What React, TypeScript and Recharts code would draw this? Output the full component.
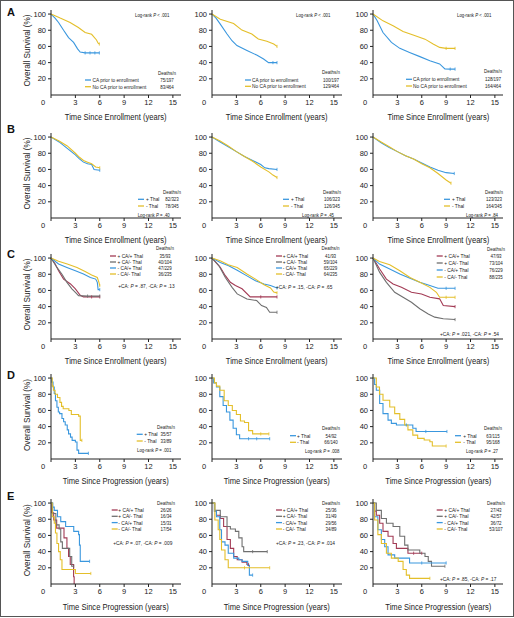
import { LineChart, Line, XAxis, YAxis } from 'recharts';

type Raw = number[];
type Pt = { t: number; s: number; c: number };
const pts = (rows: Raw[]): Pt[] => rows.map(([t, s, c]) => ({ t, s, c: c ? 1 : 0 }));

// [years, survival %, censored?]
// Row A - CA prior to enrollment vs none (three follow-up cuts)
const a1Ca = [[0,100],[0.5,95],[0.93,89.6],[1.55,80],[2.16,71],[2.78,65],[3.27,57],[3.59,53],[4.2,52,1],[4.8,52,1],[5.4,52,1],[5.95,52,1]];
const a1NoCa = [[0,100],[0.5,98],[1.13,95],[2.35,89.6],[3.37,83.4],[4.2,77.3],[5,75],[5.6,68],[5.8,64],[5.95,63,1]];
const a2Ca = [[0,100],[0.5,95],[1.02,87.6],[1.85,75.3],[2.46,67],[3.07,61],[4.3,55],[5.5,49.3],[6.35,44.4],[6.96,40],[7.5,40,1],[8,40,1]];
const a2NoCa = [[0,100],[1.02,93.7],[2.66,88.3],[3.68,80.2],[4.9,75.3],[5.7,69.2],[6.75,66.3],[7.6,63],[8,60,1]];
const a3Ca = [[0,100],[0.5,92],[1.23,77.2],[2.27,65],[3.3,57.6],[4.5,52.6],[5.77,47.4],[7,42.4],[8.2,38.4],[8.85,32.2],[9.5,32,1],[10.1,32,1]];
const a3NoCa = [[0,100],[1.23,91.6],[2.47,85.5],[3.7,78.5],[4.94,74],[6.4,69],[7.4,63],[8.2,58.8],[9,57.6,1],[10.1,57.6,1]];

// Row B - +Thal vs -Thal
const b1Thal = [[0,100],[1,94],[2,86],[3,78],[3.5,73],[4,69],[4.5,67],[5,66],[5.3,60],[6,59,1]];
const b1NoThal = [[0,100],[1,95],[2,89],[3,80],[3.5,75],[4,71],[4.5,69],[5,67],[5.5,63],[6,62,1]];
const b2Thal = [[0,100],[1,94],[2,88],[3,82],[4,76],[5,71],[6,66],[6.5,62],[7,61],[8,60,1]];
const b2NoThal = [[0,100],[1,95],[2,89],[3,82],[4,76],[5,70],[6,63],[7,57],[7.5,53],[8,50,1]];
const b3Thal = [[0,100],[1,93],[2,87],[3,82],[4,77],[5,73],[6,68],[7,63],[8,59],[9,56],[10,55,1]];
const b3NoThal = [[0,100],[1,94],[2,88],[3,82],[4,77],[5,73],[6,67],[7,62],[8,55],[9,47],[9.6,43,1]];

// Row C - CA x Thal groups
const c1CaThal = [[0,100],[0.5,93],[0.93,84.4],[1.55,74],[2.4,68],[3,62],[3.6,54],[4,52],[5,52,1],[6,52,1]];
const c1CaNoThal = [[0,100],[0.73,88.4],[1.35,80],[1.96,70],[2.57,62],[3,57.7],[3.39,53.6],[4.5,53,1],[6,53,1]];
const c1NoCaThal = [[0,100],[0.93,92.6],[1.96,88.4],[3,84.4],[4,80.3],[4.84,76],[5.5,74],[5.7,70],[5.8,61],[6,61,1]];
const c1NoCaNoThal = [[0,100],[0.93,96],[2,92.6],[3.2,88.4],[4.2,83.5],[5,79],[5.7,76],[5.9,70],[6,66,1]];
const c2CaThal = [[0,100],[1.02,88.4],[1.64,78.2],[2.26,70],[2.88,66],[3.7,62],[4.7,52],[6,52,1],[8,52,1]];
const c2CaNoThal = [[0,100],[0.86,90.5],[1.64,76],[2.47,63.8],[3.1,55.7],[4.3,49.5],[5.5,47.5],[6.1,41.3],[6.7,39],[7.1,33],[8,33,1]];
const c2NoCaThal = [[0,100],[1.02,94.6],[2.05,90.5],[3.1,85],[4.3,78],[5.35,72],[6.4,68],[7.2,66],[8,63,1]];
const c2NoCaNoThal = [[0,100],[1,96.7],[2,91.8],[3.1,88.4],[4.3,80.3],[5.35,74],[6.4,67],[7.2,63],[7.6,58],[8,57,1]];
const c3CaThal = [[0,100],[0.82,86.5],[1.65,74],[2.47,68],[3.5,63.8],[4.73,57.7],[5.97,55.7],[7,51.5],[8.2,49.6],[8.65,41.3],[10.1,40,1]];
const c3CaNoThal = [[0,100],[0.82,82.3],[1.65,70],[2.67,57.7],[3.7,51.5],[4.73,45.4],[5.76,37.3],[6.8,31],[7.6,27],[8.65,25],[10.1,24,1]];
const c3NoCaThal = [[0,100],[0.8,92.6],[2.06,86.5],[3.3,80.3],[4.55,75],[5.76,70],[7,66],[8,62.6],[9,62.6,1],[10.1,62.6,1]];
const c3NoCaNoThal = [[0,100],[0.8,95.8],[2.06,91.8],[3.3,84.4],[4.55,76],[5.76,70],[7,63.8],[7.8,57.7],[8.2,51.5],[9,51.5,1],[10.1,51.5,1]];

// Row D - since progression, +Thal vs -Thal
const d1Thal = [[0,100],[0.1,95],[0.25,89],[0.4,81],[0.55,72],[0.73,64],[0.9,58],[1.06,56],[1.35,50],[1.55,46],[1.75,42],[2,36],[2.16,31],[2.4,27],[2.6,23],[3,21],[3.2,11],[3.4,7],[4.6,7,1]];
const d1NoThal = [[0,100],[0.15,90],[0.3,85],[0.5,80],[0.8,76],[1.1,70],[1.3,65],[1.5,62],[2.2,60],[2.5,55],[3.4,53],[3.6,23],[3.8,23,1]];
const d2Thal = [[0,100],[0.2,94],[0.55,89],[0.96,77],[1.37,66],[1.78,58],[2.2,48],[2.6,38],[3,30],[3.4,25],[4.5,25,1],[5.5,25,1],[7.1,25,1]];
const d2NoThal = [[0,100],[0.3,94],[0.55,90],[0.96,85],[1.5,72],[2,66],[2.5,60],[3,55],[3.5,47],[4,45],[4.5,35],[5,31],[6,31,1],[7,31,1]];
const d3Thal = [[0,100],[0.2,92],[0.41,85],[0.82,68.5],[1.23,56],[1.85,48],[2.26,44],[2.88,42],[4.1,42,1],[4.9,38],[5.3,34],[6.5,34,1],[9.1,34,1]];
const d3NoThal = [[0,100],[0.41,89],[0.8,80],[1.23,72.6],[2.06,64.3],[2.67,56],[3.3,49],[3.9,42],[4.3,36],[4.9,29.5],[5.5,25.5],[6.3,23.4],[7,21.3],[7.3,16],[9,16,1]];

// Row E - since progression, CA x Thal groups
const e1CaThal = [[0,100],[0.1,88],[0.33,79],[0.7,69],[1.6,57],[1.96,44],[2.16,34],[2.37,24],[2.78,9],[2.85,0]];
const e1CaNoThal = [[0,100],[0.2,87],[0.6,73],[1,68],[1.2,52],[1.4,44],[2.3,34],[2.55,22],[2.8,22,1]];
const e1NoCaThal = [[0,100],[0.2,95],[0.4,91],[0.8,83],[1.2,77],[1.8,71],[2.8,65],[3.4,61],[3.5,48],[3.6,28],[4.75,28,1]];
const e1NoCaNoThal = [[0,100],[0.15,83],[0.4,75],[0.55,63],[0.73,50],[0.93,40],[1.14,30],[1.35,18],[3,13],[4.9,13,1]];
const e2CaThal = [[0,100],[0.3,90],[0.55,85],[1.02,81],[1.43,71],[1.85,55],[2.26,44],[2.67,34],[3.1,30],[3.7,27],[4.3,24],[4.5,24,1]];
const e2CaNoThal = [[0,100],[0.35,91],[1.02,83],[1.85,71],[2.26,68],[2.88,65],[3.3,57],[3.7,46],[3.9,40],[5,40,1],[6.8,40,1]];
const e2NoCaThal = [[0,100],[0.3,90],[0.55,83],[0.96,67],[1.17,52],[1.6,48],[2,38],[2.67,32],[3.3,30],[3.7,28],[4.4,23],[4.6,11],[5,11,1]];
const e2NoCaNoThal = [[0,100],[0.35,79],[0.76,67],[0.96,55],[1.17,42],[1.6,30],[2,20],[4,20,1],[7.1,20,1]];
const e3CaThal = [[0,100],[0.2,90],[0.41,85],[0.82,75],[1.23,65],[1.85,59],[2.47,50],[2.88,44],[4.3,38],[5,38,1],[6,38,1]];
const e3CaNoThal = [[0,100],[0.41,91],[1.03,81],[1.65,75],[2.47,71],[3.3,59],[3.9,48],[4.3,42],[5.76,38],[6.4,34],[6.8,28],[7.2,22],[8.85,22,1]];
const e3NoCaThal = [[0,100],[0.2,83],[0.6,67],[1.03,55],[1.44,46],[1.85,36],[2.67,32],[4.5,26],[6,26,1],[9,26,1]];
const e3NoCaNoThal = [[0,100],[0.2,79],[0.6,61],[1.03,50],[1.65,38],[2.26,32],[3.1,28],[3.7,18],[4.1,11],[4.5,7],[7,7,1]];

// legend text
const caNames = ['CA prior to enrollment', 'No CA prior to enrollment'];
const thalNames = ['+ Thal', '- Thal'];
const groupNames = ['+ CA/+ Thal', '+ CA/- Thal', '- CA/+ Thal', '- CA/- Thal'];
const deathsA = [['75/197', '83/464'], ['100/197', '129/464'], ['128/197', '164/464']];
const deathsB = [['82/323', '78/345'], ['106/323', '126/345'], ['123/323', '164/345']];
const deathsC = [['35/93', '40/104', '47/229', '36/235'], ['41/93', '59/104', '65/229', '64/235'], ['47/93', '73/104', '76/229', '88/235']];
const deathsD = [['35/57', '33/89'], ['54/92', '66/140'], ['63/115', '95/168']];
const deathsE = [['26/26', '16/34', '15/31', '17/54'], ['25/36', '31/49', '29/56', '34/89'], ['27/43', '42/57', '36/72', '53/107']];
const statsA = ['Log-rank *P* < .001', 'Log-rank *P* < .001', 'Log-rank *P* < .001'];
const statsB = ['Log-rank *P* = .40', 'Log-rank *P* = .45', 'Log-rank *P* = .84'];
const statsC = ['+CA: *P* = .87, -CA: *P* = .13', '+CA: *P* = .15, -CA: *P* = .65', '+CA: *P* = .021, -CA: *P* = .54'];
const statsD = ['Log-rank *P* = .001', 'Log-rank *P* = .008', 'Log-rank *P* = .27'];
const statsE = ['+CA: *P* = .07, -CA: *P* = .009', '+CA: *P* = .23, -CA: *P* = .014', '+CA: *P* = .85, -CA: *P* = .17'];
const rowLetters = ['A', 'B', 'C', 'D', 'E'];
const X_TICKS = [0, 3, 6, 9, 12, 15];
const Y_TICKS = [20, 40, 60, 80, 100];

const BLUE = '#3a97de';
const GOLD = '#e4bf2a';
const MAROON = '#a33b55';
const GRAY = '#6f6f6f';
const INK = '#222';
const SANS = "'Liberation Sans', Arial, sans-serif";

const COL_X = [50.7, 211.7, 373.3];
const ROW_Y = [94.5, 217.5, 338.6, 459, 584.3];
const PW = 130;
const PH = 85;
const ML = 40;
const MT = 4;
const MR = 4;
const XH = 30;

type Series = { data: Raw[]; color: string };
type PanelDef = { series: Series[]; names: string[]; deaths: string[]; stat: string; stepped: boolean; title: string };

const two = (a: Raw[], b: Raw[]) => [{ data: a, color: BLUE }, { data: b, color: GOLD }];
const four = (a: Raw[], b: Raw[], c: Raw[], d: Raw[]) => [
  { data: a, color: MAROON }, { data: b, color: GRAY }, { data: c, color: BLUE }, { data: d, color: GOLD },
];
const ENR = 'Time Since Enrollment (years)';
const PROG = 'Time Since Progression (years)';

const panels: PanelDef[] = [
  { series: two(a1Ca, a1NoCa), names: caNames, deaths: deathsA[0], stat: statsA[0], stepped: false, title: ENR },
  { series: two(a2Ca, a2NoCa), names: caNames, deaths: deathsA[1], stat: statsA[1], stepped: false, title: ENR },
  { series: two(a3Ca, a3NoCa), names: caNames, deaths: deathsA[2], stat: statsA[2], stepped: false, title: ENR },
  { series: two(b1Thal, b1NoThal), names: thalNames, deaths: deathsB[0], stat: statsB[0], stepped: false, title: ENR },
  { series: two(b2Thal, b2NoThal), names: thalNames, deaths: deathsB[1], stat: statsB[1], stepped: false, title: ENR },
  { series: two(b3Thal, b3NoThal), names: thalNames, deaths: deathsB[2], stat: statsB[2], stepped: false, title: ENR },
  { series: four(c1CaThal, c1CaNoThal, c1NoCaThal, c1NoCaNoThal), names: groupNames, deaths: deathsC[0], stat: statsC[0], stepped: false, title: ENR },
  { series: four(c2CaThal, c2CaNoThal, c2NoCaThal, c2NoCaNoThal), names: groupNames, deaths: deathsC[1], stat: statsC[1], stepped: false, title: ENR },
  { series: four(c3CaThal, c3CaNoThal, c3NoCaThal, c3NoCaNoThal), names: groupNames, deaths: deathsC[2], stat: statsC[2], stepped: false, title: ENR },
  { series: two(d1Thal, d1NoThal), names: thalNames, deaths: deathsD[0], stat: statsD[0], stepped: true, title: PROG },
  { series: two(d2Thal, d2NoThal), names: thalNames, deaths: deathsD[1], stat: statsD[1], stepped: true, title: PROG },
  { series: two(d3Thal, d3NoThal), names: thalNames, deaths: deathsD[2], stat: statsD[2], stepped: true, title: PROG },
  { series: four(e1CaThal, e1CaNoThal, e1NoCaThal, e1NoCaNoThal), names: groupNames, deaths: deathsE[0], stat: statsE[0], stepped: true, title: PROG },
  { series: four(e2CaThal, e2CaNoThal, e2NoCaThal, e2NoCaNoThal), names: groupNames, deaths: deathsE[1], stat: statsE[1], stepped: true, title: PROG },
  { series: four(e3CaThal, e3CaNoThal, e3NoCaThal, e3NoCaNoThal), names: groupNames, deaths: deathsE[2], stat: statsE[2], stepped: true, title: PROG },
];

// legend placement per panel (absolute px)
const C_ROWS = [256, 262, 268, 274];
const E_ROWS = [510, 516.3, 522.6, 529];
const LEG = [
  { hx: 167, hy: 72.7, ry: [80, 86.7], sx: 85, tx: 92.5, stx: 135, sty: 15 },
  { hx: 331, hy: 71.7, ry: [80, 86.3], sx: 245, tx: 252, stx: 296, sty: 15 },
  { hx: 493, hy: 70.7, ry: [79.3, 86], sx: 406, tx: 413, stx: 457, sty: 15 },
  { hx: 172, hy: 191.7, ry: [199.3, 206], sx: 138, tx: 146, stx: 137.7, sty: 215 },
  { hx: 332, hy: 191.7, ry: [199.3, 206], sx: 283, tx: 291, stx: 302, sty: 215 },
  { hx: 494, hy: 191.7, ry: [199.3, 206], sx: 444, tx: 452, stx: 466, sty: 215 },
  { hx: 165, hy: 248.5, ry: C_ROWS, sx: 110, tx: 117.5, stx: 118.3, sty: 286 },
  { hx: 330.5, hy: 248.5, ry: C_ROWS, sx: 276, tx: 282.7, stx: 276, sty: 286.7 },
  { hx: 496, hy: 249.5, ry: [256, 263, 270, 277], sx: 436.7, tx: 444.3, stx: 440, sty: 334 },
  { hx: 166, hy: 427.3, ry: [434.3, 441], sx: 136.7, tx: 144.3, stx: 137, sty: 450 },
  { hx: 331, hy: 428.3, ry: [435.7, 442.3], sx: 290, tx: 297, stx: 305, sty: 450.7 },
  { hx: 493, hy: 428.3, ry: [435.7, 442.3], sx: 455, tx: 463.3, stx: 466, sty: 450.7 },
  { hx: 166, hy: 503.5, ry: E_ROWS, sx: 111.7, tx: 118.3, stx: 113.3, sty: 543.3 },
  { hx: 331, hy: 503.5, ry: E_ROWS, sx: 276, tx: 282.7, stx: 276, sty: 542.7 },
  { hx: 496, hy: 503.5, ry: E_ROWS, sx: 436.7, tx: 444.3, stx: 440, sty: 579.3 },
];
const LETTER_Y = [12, 129, 254, 375.5, 496];

// condensed text: regular face squeezed horizontally
function NText({ x, y, size, anchor = 'start', squeeze = 0.8, rotate = 0, children }: any) {
  return (
    <g transform={`translate(${x},${y}) rotate(${rotate}) scale(${squeeze},1)`}>
      <text x={0} y={0} dy="0.35em" fontSize={size} textAnchor={anchor} fill={INK} fontFamily={SANS}>
        {children}
      </text>
    </g>
  );
}

const XTick = (props: any) => {
  const { x, y, payload } = props;
  return (
    <text x={payload.value === 0 ? x - 8 : x} y={y + 5} textAnchor="middle" fontSize={7.5} fill={INK} fontFamily={SANS}>
      {payload.value}
    </text>
  );
};

const censor = (color: string) => (p: any) => {
  const { cx, cy, payload, index } = p;
  if (!payload || !payload.c || cx == null) return <g key={`n${index}`} />;
  return <line key={`c${index}`} x1={cx} x2={cx} y1={cy - 1.6} y2={cy + 1.6} stroke={color} strokeWidth={0.8} />;
};

function Panel({ def, col, row }: { def: PanelDef; col: number; row: number }) {
  const ox = COL_X[col];
  const oy = ROW_Y[row];
  return (
    <div style={{ position: 'absolute', left: ox - ML, top: oy - PH - MT }}>
      <LineChart width={ML + PW + MR} height={MT + PH + XH} margin={{ top: MT, right: MR, bottom: 0, left: 0 }}>
        <XAxis
          type="number"
          dataKey="t"
          domain={[0, 16]}
          ticks={X_TICKS}
          interval={0}
          tickSize={3}
          height={XH}
          stroke={INK}
          tick={<XTick />}
        />
        <YAxis
          type="number"
          domain={[0, 105]}
          ticks={Y_TICKS}
          interval={0}
          width={ML}
          tickSize={3}
          stroke={INK}
          tick={{ fontSize: 7.5, fill: INK, fontFamily: SANS }}
        />
        {def.series.map((s, i) => (
          <Line
            key={i}
            data={pts(s.data)}
            dataKey="s"
            type={def.stepped ? 'stepAfter' : 'linear'}
            stroke={s.color}
            strokeWidth={1.1}
            dot={censor(s.color)}
            activeDot={false}
            isAnimationActive={false}
          />
        ))}
      </LineChart>
    </div>
  );
}

function StatText({ x, y, text, size }: { x: number; y: number; text: string; size: number }) {
  return (
    <NText x={x} y={y} size={size}>
      {text.split('*').map((part, i) => (
        <tspan key={i} fontStyle={i % 2 ? 'italic' : 'normal'}>{part}</tspan>
      ))}
    </NText>
  );
}

function Overlay() {
  return (
    <svg width={514} height={618} style={{ position: 'absolute', left: 0, top: 0, pointerEvents: 'none' }}>
      <rect x={0.5} y={0.5} width={513} height={616} fill="none" stroke="#555" strokeWidth={1} />
      {rowLetters.map((l, i) => (
        <text key={l} x={7} y={LETTER_Y[i]} dy="0.35em" fontSize={11} fontWeight="bold" fill="#111" fontFamily={SANS}>{l}</text>
      ))}
      {ROW_Y.map((oy, r) => (
        <g key={`ax${r}`}>
          <NText x={27} y={oy - 44} size={9.5} anchor="middle" rotate={-90} squeeze={0.86}>
            Overall Survival (%)
          </NText>
          {COL_X.map((ox, c) => (
            <NText key={c} x={ox + PW / 2} y={oy + 22} size={9.5} anchor="middle" squeeze={0.8}>
              {panels[r * 3 + c].title}
            </NText>
          ))}
        </g>
      ))}
      {panels.map((p, k) => {
        const L = LEG[k];
        const four4 = p.names.length === 4;
        return (
          <g key={k}>
            <NText x={L.hx} y={L.hy} size={5.6} anchor="middle">Deaths/n</NText>
            {p.names.map((n, i) => (
              <g key={n}>
                <line x1={L.sx} x2={L.sx + 6} y1={L.ry[i]} y2={L.ry[i]} stroke={p.series[i].color} strokeWidth={1.3} />
                <NText x={L.tx} y={L.ry[i]} size={6}>{n}</NText>
                <NText x={L.hx} y={L.ry[i]} size={5.6} anchor="middle">{p.deaths[i]}</NText>
              </g>
            ))}
            <StatText x={L.stx} y={L.sty} text={p.stat} size={four4 ? 6 : 5.4} />
          </g>
        );
      })}
    </svg>
  );
}

export default function App() {
  return (
    <div style={{ position: 'absolute', left: 0, top: 0, width: 514, height: 618, background: '#fff', overflow: 'hidden' }}>
      {panels.map((p, k) => (
        <Panel key={k} def={p} col={k % 3} row={Math.floor(k / 3)} />
      ))}
      <Overlay />
    </div>
  );
}
